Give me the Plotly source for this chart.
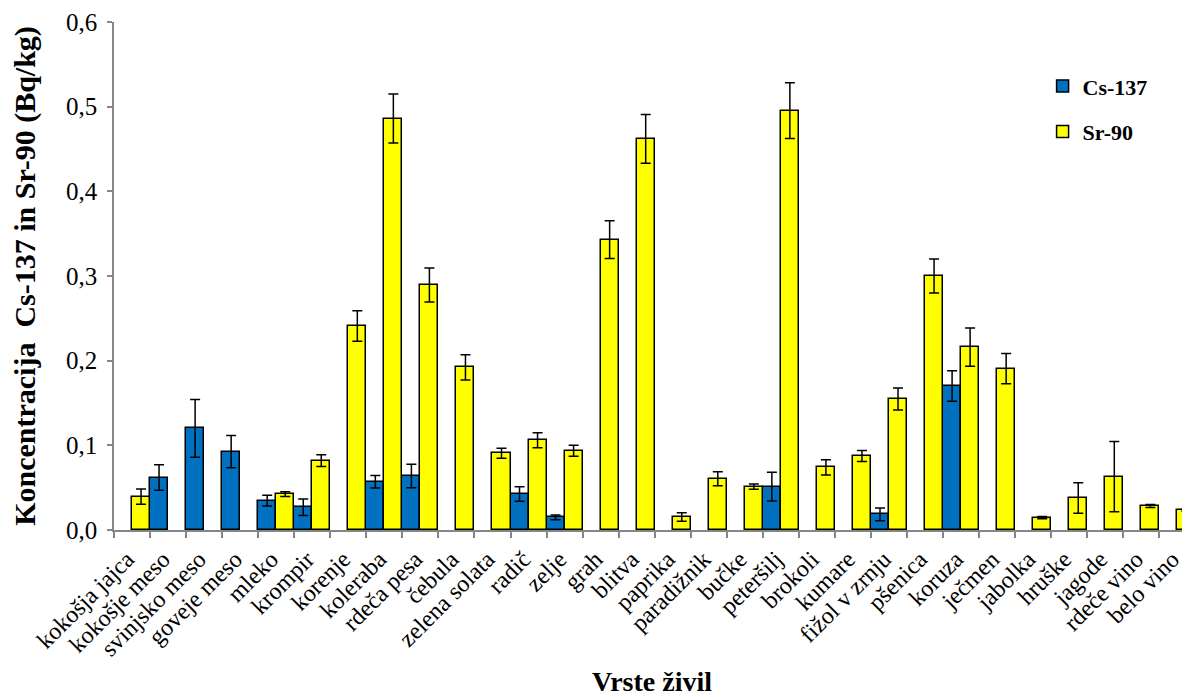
import plotly.graph_objects as go

categories = ["kokošja jajca", "kokošje meso", "svinjsko meso", "goveje meso", "mleko",
              "krompir", "korenje", "koleraba", "rdeča pesa", "čebula",
              "zelena solata", "radič", "zelje", "grah", "blitva",
              "paprika", "paradižnik", "bučke", "peteršilj", "brokoli",
              "kumare", "fižol v zrnju", "pšenica", "koruza", "ječmen",
              "jabolka", "hruške", "jagode", "rdeče vino", "belo vino"]

cs137 = [None, 0.062, 0.120, 0.0925, 0.0346, 0.0268, None, 0.057, 0.0638, None,
         None, 0.0425, 0.015, None, None, None, None, None, 0.0512, None,
         None, 0.0185, None, 0.170, None, None, None, None, None, None]
cs137_err = [0, 0.015, 0.034, 0.019, 0.0063, 0.0097, 0, 0.0073, 0.0138, 0,
             0, 0.0085, 0.0028, 0, 0, 0, 0, 0, 0.017, 0,
             0, 0.0075, 0, 0.018, 0, 0, 0, 0, 0, 0]

sr90 = [0.0394, None, None, None, 0.0425, 0.0819, 0.241, 0.486, 0.2894, 0.1921,
        0.0906, 0.106, 0.0937, 0.343, 0.462, 0.0154, 0.0606, 0.0512, 0.4953, 0.074,
        0.0874, 0.1547, 0.300, 0.2161, 0.1906, 0.0146, 0.0378, 0.063, 0.0283, 0.0236]
sr90_err = [0.009, 0, 0, 0, 0.0028, 0.0069, 0.018, 0.029, 0.020, 0.0148,
            0.0059, 0.0089, 0.0065, 0.0224, 0.0287, 0.005, 0.0083, 0.003, 0.033, 0.0089,
            0.0065, 0.013, 0.020, 0.0226, 0.018, 0.0012, 0.018, 0.0415, 0.0018, 0.0012]

FONT = "Liberation Serif, Times New Roman, serif"
AXIS_GRAY = "#868686"

fig = go.Figure()
fig.add_trace(go.Bar(
    name="Cs-137", x=categories, y=cs137,
    marker=dict(color="#0070C0", line=dict(color="black", width=1.5)),
    error_y=dict(type="data", array=cs137_err, color="black", thickness=1.5, width=5),
    legendgroup="cs",
))
fig.add_trace(go.Bar(
    name="Sr-90", x=categories, y=sr90,
    marker=dict(color="#FFFF00", line=dict(color="black", width=1.5)),
    error_y=dict(type="data", array=sr90_err, color="black", thickness=1.5, width=5),
    legendgroup="sr",
))

# page body has an 8px margin, so the figure is 8px smaller than the window
fig.update_layout(
    width=1182, height=689,
    margin=dict(l=106, r=0, t=14, b=167),
    paper_bgcolor="white", plot_bgcolor="white",
    barmode="group", bargap=0, bargroupgap=0,
    separators=",.",
    font=dict(family=FONT, size=24, color="black"),
    legend=dict(x=0.863, y=0.915, xanchor="left", yanchor="top",
                font=dict(family=FONT, size=22, color="black", weight="bold"),
                tracegroupgap=14, bgcolor="rgba(0,0,0,0)"),
    showlegend=True,
)
fig.update_xaxes(
    type="category", range=[-0.5, 29.35], automargin=False,
    tickangle=-45, tickson="boundaries", ticks="outside", ticklen=6,
    tickcolor=AXIS_GRAY, tickwidth=1.5,
    showline=True, linecolor=AXIS_GRAY, linewidth=1.5,
    showgrid=False, zeroline=False,
    ticklabelshift=-5, ticklabelstandoff=4,
    tickfont=dict(family=FONT, size=24, color="black"),
    title=dict(text="Vrste živil", standoff=32,
               font=dict(family=FONT, size=28, color="black", weight="bold")),
)
fig.update_yaxes(
    range=[0, 0.6], dtick=0.1, tickformat=".1f", automargin=False,
    ticks="outside", ticklen=5, tickcolor=AXIS_GRAY, tickwidth=1.5,
    showline=True, linecolor=AXIS_GRAY, linewidth=1.5,
    showgrid=False, zeroline=False,
    ticklabelstandoff=5,
    tickfont=dict(family=FONT, size=25, color="black"),
    title=dict(text="Koncentracija  Cs-137 in Sr-90 (Bq/kg)", standoff=28,
               font=dict(family=FONT, size=30, color="black", weight="bold")),
)

fig.write_html("out.html")
